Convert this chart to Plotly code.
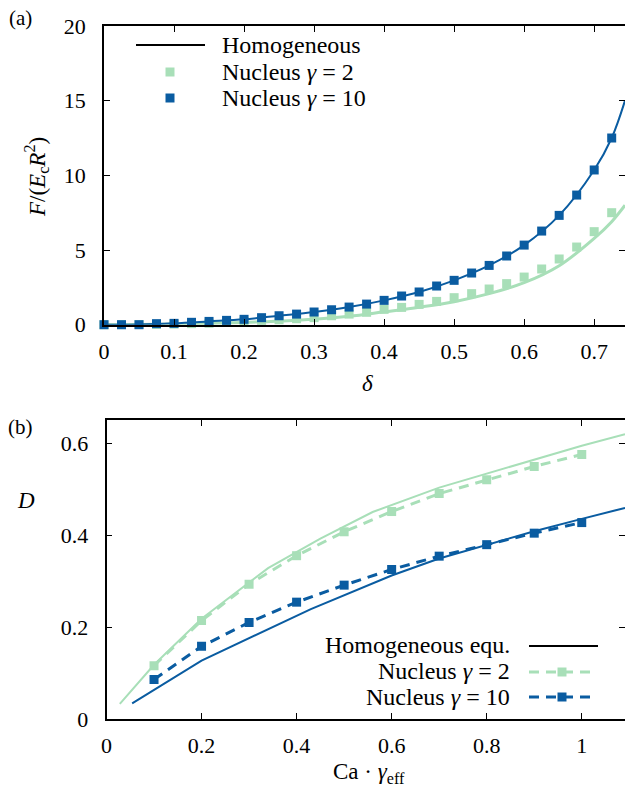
import plotly.graph_objects as go

# ---------------- data: panel (a) ----------------
delta = [0, 0.025, 0.05, 0.075, 0.1, 0.125, 0.15, 0.175, 0.2, 0.225, 0.25, 0.275,
         0.3, 0.325, 0.35, 0.375, 0.4, 0.425, 0.45, 0.475, 0.5, 0.525, 0.55, 0.575,
         0.6, 0.625, 0.65, 0.675, 0.7, 0.725]
F_nuc10 = [0, 0, 0, 0.07, 0.09, 0.16, 0.22, 0.29, 0.36, 0.47, 0.6, 0.71,
           0.85, 1.0, 1.18, 1.38, 1.63, 1.92, 2.19, 2.59, 2.97, 3.46, 3.97, 4.6,
           5.33, 6.27, 7.32, 8.68, 10.36, 12.5]
F_nuc2 = [0, 0.003, 0.01, 0.02, 0.04, 0.07, 0.1, 0.16, 0.22, 0.29, 0.33, 0.4,
          0.47, 0.6, 0.71, 0.83, 1.03, 1.16, 1.36, 1.56, 1.81, 2.08, 2.39, 2.75,
          3.19, 3.73, 4.4, 5.2, 6.23, 7.5]
delta_hom10 = [0, 0.05, 0.1, 0.15, 0.2, 0.25, 0.3, 0.35, 0.4, 0.45, 0.5, 0.55,
               0.6, 0.65, 0.7, 0.725, 0.744]
F_hom10 = [0, 0.01, 0.09, 0.22, 0.36, 0.6, 0.85, 1.18, 1.63, 2.19, 2.97, 3.97,
           5.33, 7.32, 10.36, 12.5, 15.0]
delta_hom2 = [0, 0.05, 0.1, 0.15, 0.2, 0.25, 0.3, 0.35, 0.4, 0.45, 0.5, 0.55,
              0.6, 0.65, 0.7, 0.725, 0.744]
F_hom2 = [0, 0.01, 0.04, 0.09, 0.15, 0.24, 0.36, 0.56, 0.86, 1.17, 1.54, 2.08,
          2.81, 3.95, 5.78, 6.9, 8.0]

# ---------------- data: panel (b) ----------------
Ca = [0.1, 0.2, 0.3, 0.4, 0.5, 0.6, 0.7, 0.8, 0.9, 1.0]
D_nuc2 = [0.116, 0.214, 0.293, 0.355, 0.407, 0.451, 0.49, 0.52, 0.549, 0.575]
D_nuc10 = [0.086, 0.158, 0.21, 0.254, 0.291, 0.325, 0.354, 0.379, 0.404, 0.427]
Ca_hom2 = [0.028, 0.1, 0.2, 0.34, 0.45, 0.56, 0.7, 0.85, 1.0, 1.091]
D_hom2 = [0.033, 0.118, 0.218, 0.328, 0.392, 0.45, 0.503, 0.548, 0.594, 0.619]
Ca_hom10 = [0.054, 0.2, 0.43, 0.6, 0.7, 0.8, 0.9, 1.0, 1.091]
D_hom10 = [0.034, 0.127, 0.239, 0.312, 0.349, 0.379, 0.408, 0.435, 0.459]

BLUE = "#0a5ca1"
GREEN = "#a8dfb8"
FONT = "'Liberation Serif', 'DejaVu Serif', serif"
W, H = 625, 788
MS = 9
DASH = "10px,7px"

def px(x):
    return x / W

def py(y):
    return 1 - y / H

fig = go.Figure()

# panel (a)
fig.add_trace(go.Scatter(x=delta_hom2, y=F_hom2, mode="lines", line=dict(color=GREEN, width=3, shape="spline"),
                         xaxis="x", yaxis="y", showlegend=False))
fig.add_trace(go.Scatter(x=delta, y=F_nuc2, mode="markers", marker=dict(color=GREEN, symbol="square", size=MS),
                         xaxis="x", yaxis="y", showlegend=False, cliponaxis=False))
fig.add_trace(go.Scatter(x=delta_hom10, y=F_hom10, mode="lines", line=dict(color=BLUE, width=2, shape="spline"),
                         xaxis="x", yaxis="y", showlegend=False))
fig.add_trace(go.Scatter(x=delta, y=F_nuc10, mode="markers", marker=dict(color=BLUE, symbol="square", size=MS),
                         xaxis="x", yaxis="y", showlegend=False, cliponaxis=False))

# panel (b)
fig.add_trace(go.Scatter(x=Ca_hom2, y=D_hom2, mode="lines", line=dict(color=GREEN, width=2),
                         xaxis="x2", yaxis="y2", showlegend=False))
fig.add_trace(go.Scatter(x=Ca_hom10, y=D_hom10, mode="lines", line=dict(color=BLUE, width=2),
                         xaxis="x2", yaxis="y2", showlegend=False))
fig.add_trace(go.Scatter(x=Ca, y=D_nuc2, mode="lines+markers", line=dict(color=GREEN, width=3, dash=DASH),
                         marker=dict(color=GREEN, symbol="square", size=MS),
                         xaxis="x2", yaxis="y2", showlegend=False))
fig.add_trace(go.Scatter(x=Ca, y=D_nuc10, mode="lines+markers", line=dict(color=BLUE, width=3, dash=DASH),
                         marker=dict(color=BLUE, symbol="square", size=MS),
                         xaxis="x2", yaxis="y2", showlegend=False))

axcommon = dict(showline=True, linecolor="black", linewidth=1.5, mirror="ticks", ticks="inside",
                ticklen=6, tickcolor="black", tickwidth=1, showgrid=False, zeroline=False,
                automargin=False, tickfont=dict(family=FONT, size=22, color="black"))
xcommon = dict(ticklabelstandoff=6, **axcommon)
ycommon = dict(ticklabelstandoff=12, **axcommon)

fig.update_layout(
    template="none",
    width=W, height=H,
    margin=dict(l=0, r=0, t=0, b=0, autoexpand=False),
    paper_bgcolor="white", plot_bgcolor="white",
    font=dict(family=FONT, size=22, color="black"),
    showlegend=False,
    xaxis=dict(domain=[px(104), 1], range=[0, 0.744], dtick=0.1, tick0=0, anchor="y", **xcommon),
    yaxis=dict(domain=[py(324.7), py(26)], range=[0, 20], dtick=5, anchor="x", **ycommon),
    xaxis2=dict(domain=[px(106.5), 1], range=[0, 1.091], dtick=0.2, tick0=0, anchor="y2", **xcommon),
    yaxis2=dict(domain=[py(719), py(420)], range=[0, 0.65], dtick=0.2, anchor="x2", **ycommon),
)

ann = []
def text(x, y, s, size=22, xanchor="center", angle=0):
    ann.append(dict(x=px(x), y=py(y), xref="paper", yref="paper", text=s, showarrow=False,
                    xanchor=xanchor, yanchor="middle", textangle=angle,
                    font=dict(family=FONT, size=size, color="black")))

text(20, 18, "(a)", 21)
text(20, 427, "(b)", 21)
text(367, 383, "<i>δ</i>", 23)
text(36, 177, "<i>F</i>/(<i>E</i><sub>c</sub><i>R</i><sup>2</sup>)", 23, angle=-90)
text(26, 500, "<i>D</i>", 23)
text(369, 773, "Ca · <i>γ</i><sub>eff</sub>", 23)

# legend (a)
text(220, 45, "Homogeneous", 24, xanchor="left")
text(220, 72, "Nucleus <i>γ</i> = 2", 24, xanchor="left")
text(220, 98, "Nucleus <i>γ</i> = 10", 24, xanchor="left")
# legend (b)
text(512, 645, "Homogeneous equ.", 24, xanchor="right")
text(512, 671, "Nucleus <i>γ</i> = 2", 24, xanchor="right")
text(512, 697, "Nucleus <i>γ</i> = 10", 24, xanchor="right")

shapes = []
def lshape(x0, x1, y, color, width, dash="solid"):
    shapes.append(dict(type="line", xref="paper", yref="paper", x0=px(x0), x1=px(x1), y0=py(y), y1=py(y),
                       line=dict(color=color, width=width, dash=dash)))
def sq(x, y, color, s=MS):
    shapes.append(dict(type="rect", xref="paper", yref="paper", xsizemode="pixel", ysizemode="pixel",
                       xanchor=px(x), yanchor=py(y), x0=-s / 2, x1=s / 2, y0=-s / 2, y1=s / 2,
                       fillcolor=color, line=dict(width=0)))

lshape(136, 205, 45, "black", 2)
sq(170, 72, GREEN)
sq(170, 98, BLUE)
lshape(529, 598, 646, "black", 2)
lshape(529, 594, 672, GREEN, 3, DASH)
sq(562, 672, GREEN)
lshape(529, 594, 697, BLUE, 3, DASH)
sq(562, 697, BLUE)

fig.update_layout(annotations=ann, shapes=shapes)
fig.write_html("out.html")
